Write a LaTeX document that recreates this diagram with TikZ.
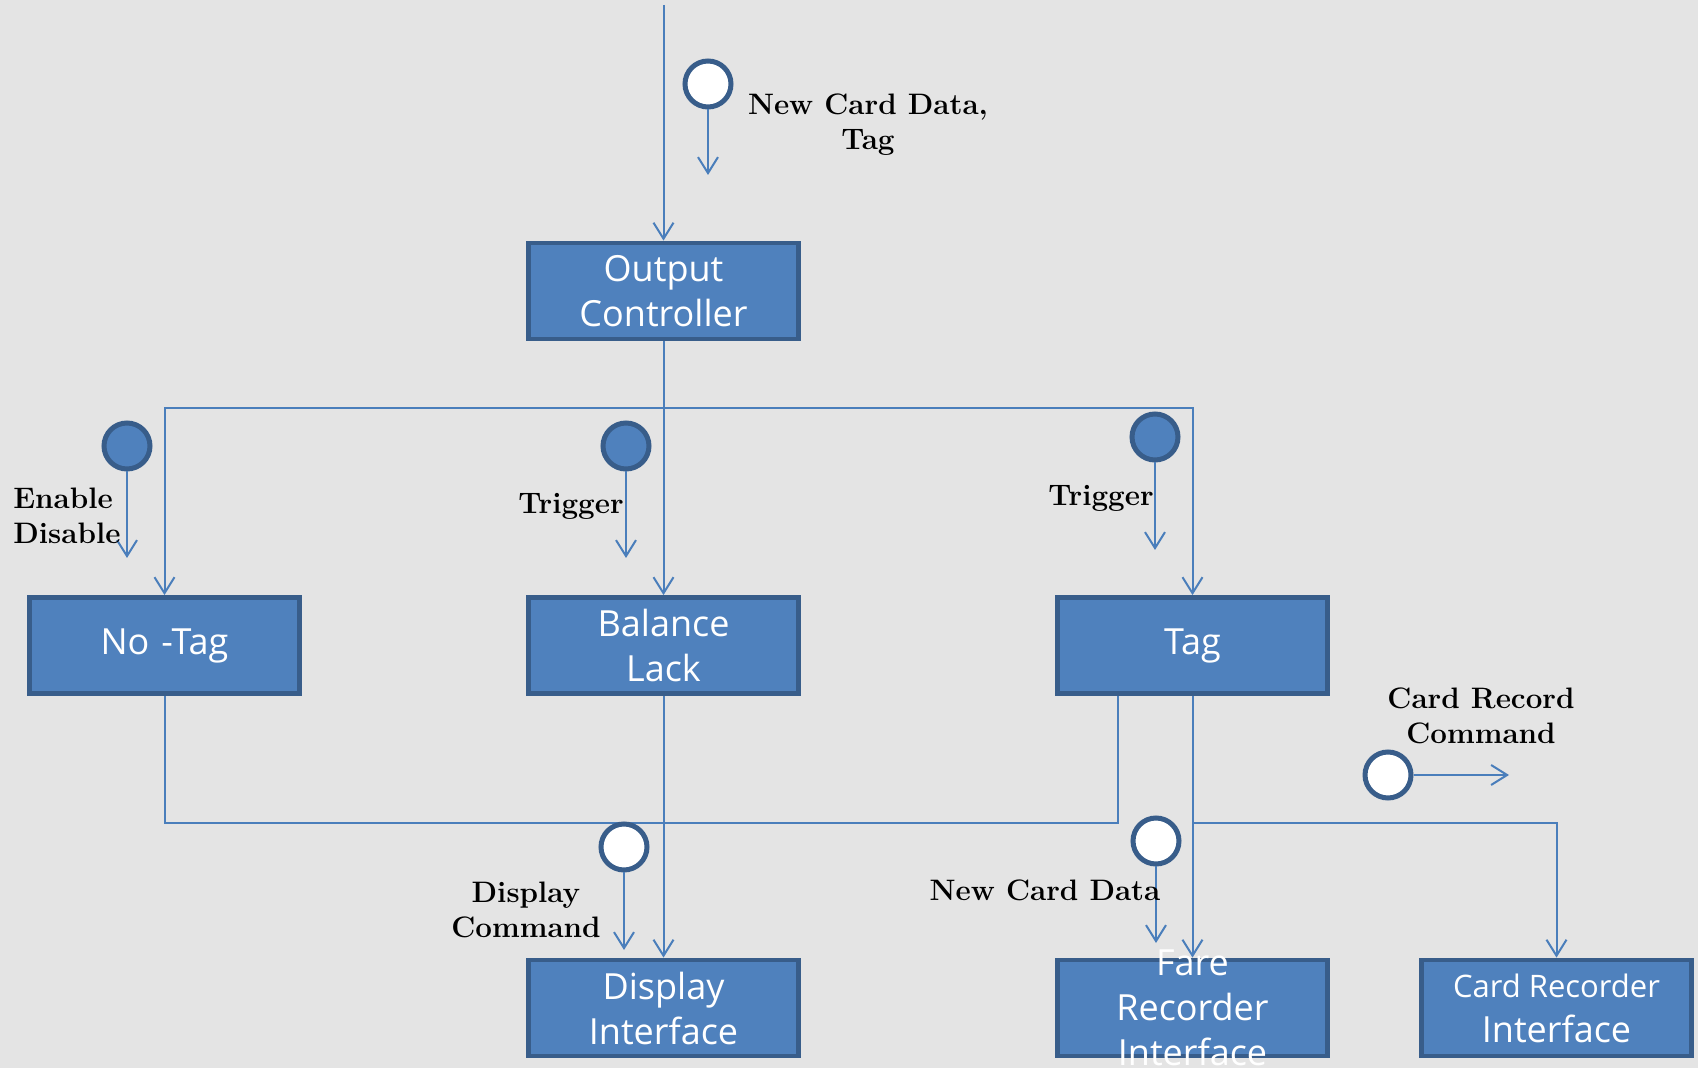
\documentclass[tikz,border=0pt]{standalone}
\usepackage{fontspec}
\newfontfamily\boxfont{Open Sans}
\definecolor{boxblue}{RGB}{79,129,189}
\definecolor{boxedge}{RGB}{56,93,138}
\definecolor{linkblue}{RGB}{74,126,187}
\definecolor{bggray}{RGB}{228,228,228}
\usepackage{tikz}
\usetikzlibrary{shapes, arrows.meta, positioning, calc}

\begin{document}
\begin{tikzpicture}[x=0.5pt, y=-0.5pt,
  >={Straight Barb[length=8pt,width=10pt]},
  module/.style={draw=boxedge, fill=boxblue, line width=2.4pt, minimum width=135pt, minimum height=48pt, inner sep=2pt},
  boxtext/.style={text=white, align=center, inner sep=0pt, font=\boxfont\fontsize{18}{22.5}\selectfont},
  link/.style={draw=linkblue, line width=1pt},
  msgin/.style={circle, draw=boxedge, fill=white, line width=2.5pt, minimum size=23pt, inner sep=0pt},
  msgon/.style={msgin, fill=boxblue},
  lbl/.style={font=\fontsize{14.8}{17.5}\selectfont\bfseries, align=center, inner sep=0pt}]
  % background
  \path[use as bounding box, fill=bggray] (0,0) rectangle (1698,1068);

  % modules
  \node[module] (outctrl) at (663.5,291) {};
  \node[boxtext] at (outctrl) {Output\\Controller};
  \node[module] (notag) at (164.5,645.5) {};
  \node[boxtext] at (notag) {No\,\,-Tag};
  \node[module] (ballack) at (663.5,645.5) {};
  \node[boxtext] at (ballack) {Balance\\Lack};
  \node[module] (tag) at (1192.5,645.5) {};
  \node[boxtext] at (tag) {Tag};
  \node[module] (dispif) at (663.5,1008) {};
  \node[boxtext] at (dispif) {Display\\Interface};
  \node[module] (fareif) at (1192.5,1008) {};
  \node[boxtext] at (fareif) {Fare\\Recorder\\Interface};
  \node[module] (cardif) at (1556.5,1008) {};
  \node[boxtext] at (cardif) {{\fontsize{15.5}{21}\selectfont Card Recorder}\\Interface};

  % connectors
  \coordinate (feed) at (663.5,5);
  \coordinate (bus) at (663.5,408);
  \coordinate (low) at (663.5,823);
  \draw[link,->] (feed) -- (outctrl.north);
  \draw[link,->] (outctrl.south) -- (ballack.north);
  \draw[link,<->] (notag.north) |- (bus) -| (tag.north);
  \draw[link] (notag.south) |- (low) -| ($(tag.south)+(-75,0)$);
  \draw[link,->] (ballack.south) -- (dispif.north);
  \draw[link,->] (tag.south) -- (fareif.north);
  \draw[link,->] (tag.south |- low) -| (cardif.north);

  % messages
  \node[msgin] (mnew) at (708,84) {};
  \coordinate (mnewend) at (708,175);
  \draw[link,->] (mnew) -- (mnewend);
  \node[lbl] (lnew) at (868,124.5) {New Card Data,\\Tag};

  \node[msgon] (men) at (127,446) {};
  \coordinate (menend) at (127,558);
  \draw[link,->] (men) -- (menend);
  \node[lbl, align=left, anchor=west] (len) at (13,515.5) {Enable\\Disable};

  \node[msgon] (mtrb) at (626,446) {};
  \coordinate (mtrbend) at (626,558);
  \draw[link,->] (mtrb) -- (mtrbend);
  \node[lbl] (ltrb) at (571,506) {Trigger};

  \node[msgon] (mtrt) at (1155,437) {};
  \coordinate (mtrtend) at (1155,550);
  \draw[link,->] (mtrt) -- (mtrtend);
  \node[lbl] (ltrt) at (1101,498) {Trigger};

  \node[msgin] (mdisp) at (624,847) {};
  \coordinate (mdispend) at (624,950);
  \draw[link,->] (mdisp) -- (mdispend);
  \node[lbl] (ldisp) at (526,909.5) {Display\\Command};

  \node[msgin] (mfare) at (1156,841) {};
  \coordinate (mfareend) at (1156,943);
  \draw[link,->] (mfare) -- (mfareend);
  \node[lbl] (lfare) at (1045,890) {New Card Data};

  \node[msgin] (mrec) at (1388,775) {};
  \coordinate (mrecend) at (1509,775);
  \draw[link,->] (mrec) -- (mrecend);
  \node[lbl] (lrec) at (1481,716) {Card Record\\Command};
\end{tikzpicture}
\end{document}
